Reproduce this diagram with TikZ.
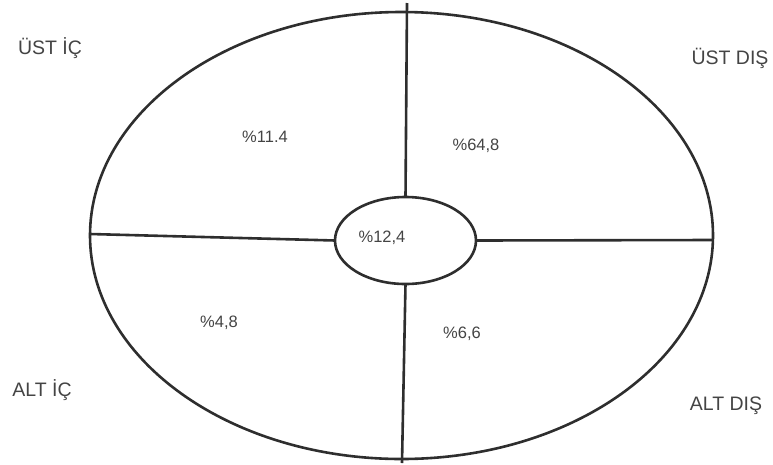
\documentclass[tikz,border=0pt]{standalone}
\usepackage{fontspec}
\setmainfont{Liberation Sans}
\usetikzlibrary{positioning, shapes.geometric}
\definecolor{Ink}{HTML}{2E2E2E}
\definecolor{Print}{HTML}{444444}
\tikzset{
    ring/.style={ellipse, draw=Ink, line width=2.6pt, inner sep=0pt, outer sep=0pt},
    part/.style={text=Print, font=\fontsize{19.5}{22}\selectfont},
    share/.style={text=Print, font=\fontsize{16.5}{19}\selectfont},
    split/.style={draw=Ink, line width=2.6pt},
}

\begin{document}
\begin{tikzpicture}[x=1pt, y=-1pt]
    \useasboundingbox (0,0) rectangle (773,464);

    % dis ve ic halkalar
    \node[ring, minimum width=623pt, minimum height=447pt] (outer) at (401.5,235.5) {};
    \node[ring, minimum width=141pt, minimum height=87pt] (core) at (405.5,240.5) {};

    % ayirici cizgiler
    \coordinate (topend) at (407,3);
    \coordinate (botend) at (402,463);
    \coordinate (leftend) at (90,234);
    \coordinate (rightend) at (713,240);
    \draw[split] (core.north) -- (topend);
    \draw[split] (core.south) -- (botend);
    \draw[split] (leftend) -- (core.west);
    \draw[split] (core.east) -- (rightend);

    % bolge adlari
    \node[part] (ustic) at (50,48) {ÜST İÇ};
    \node[part] (ustdis) at (730,58) {ÜST DIŞ};
    \node[part] (altic) at (42,390) {ALT İÇ};
    \node[part] (altdis) at (726,406) {ALT DIŞ};

    % oranlar
    \node[share] (pui) at (265,137) {\%11.4};
    \node[share] (pud) at (476,146) {\%64,8};
    \node[share] (pc) at (382,238) {\%12,4};
    \node[share] (pai) at (219,323) {\%4,8};
    \node[share] (pad) at (462,334) {\%6,6};
\end{tikzpicture}
\end{document}
